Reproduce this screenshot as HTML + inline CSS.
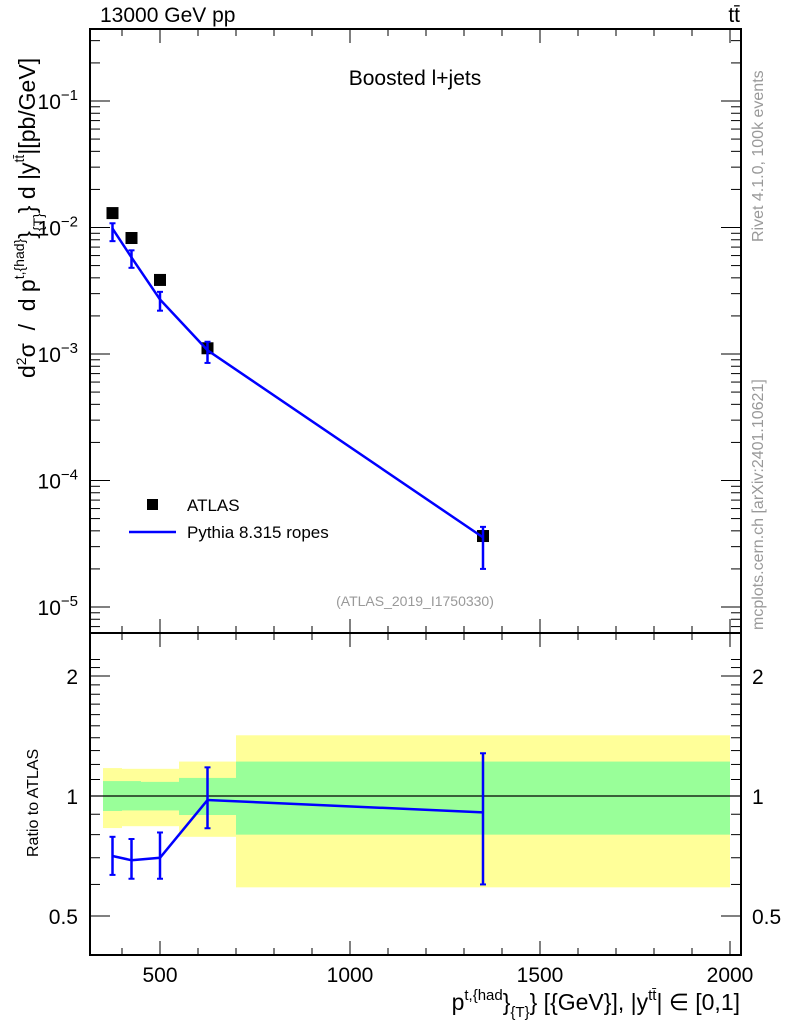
<!DOCTYPE html>
<html><head><meta charset="utf-8"><style>
body{margin:0;background:#fff;}
svg{font-family:"Liberation Sans",sans-serif;}
</style></head><body>
<svg id="c" width="786" height="1024" viewBox="0 0 786 1024"></svg>
<script>
const binEdges=[350,400,450,550,700,2000];
const xCenters=[375,425,500,625,1350];
const dataVals=[0.0130,0.00826,0.00385,0.00111,3.64e-5];
const mcVals=[0.0098,0.0058,0.0027,0.00107,3.55e-5];
const mcErrLo=[0.0078,0.0048,0.0022,0.00085,2.0e-5];
const mcErrHi=[0.0108,0.0066,0.0031,0.00125,4.3e-5];
const yellowHi=[1.175,1.17,1.17,1.22,1.42];
const yellowLo=[0.831,0.84,0.84,0.79,0.59];
const greenHi=[1.09,1.09,1.085,1.11,1.22];
const greenLo=[0.917,0.92,0.92,0.896,0.80];
const ratioVals=[0.707,0.69,0.70,0.977,0.91];
const ratioLo=[0.634,0.62,0.62,0.83,0.60];
const ratioHi=[0.79,0.78,0.81,1.18,1.28];
const xTicks=[500,1000,1500,2000];
const yTicksMain=[-5,-4,-3,-2,-1];
const yTicksRatio=[0.5,1,2];

const NS="http://www.w3.org/2000/svg";
const svg=document.getElementById('c');
const L=90,R=741,T=29,M=633,B=955;
const X=v=>-30+0.38*v;
const Y=v=>101-126.5*(Math.log10(v)+1);
const YR=v=>796-120*Math.log2(v);
function el(t,a,p){const e=document.createElementNS(NS,t);for(const k in a)e.setAttribute(k,a[k]);(p||svg).appendChild(e);return e;}
function txt(x,y,s,a,name){const e=el('text',Object.assign({x:x,y:y,'font-size':21},a||{}));e.innerHTML=s;return e;}

for(let i=0;i<5;i++){
  const x0=X(binEdges[i]),x1=X(binEdges[i+1]);
  const y1=el('rect',{x:x0,y:YR(yellowHi[i]),width:x1-x0,height:YR(yellowLo[i])-YR(yellowHi[i]),fill:'#ffff99'});
  
  
  const g1=el('rect',{x:x0,y:YR(greenHi[i]),width:x1-x0,height:YR(greenLo[i])-YR(greenHi[i]),fill:'#99ff99'});
  
  
}
el('line',{x1:L,x2:R,y1:YR(1),y2:YR(1),stroke:'#000','stroke-width':1.3});

const f1=el('rect',{x:L,y:T,width:R-L,height:M-T,fill:'none',stroke:'#000','stroke-width':2});


const f2=el('rect',{x:L,y:M,width:R-L,height:B-M,fill:'none',stroke:'#000','stroke-width':2});



for(let v=400;v<=2000;v+=100){
  const major=v%500===0,len=major?14:7,x=X(v);
  for(const [y0,d] of [[M,-1],[T,1],[B,-1],[M,1]]) el('line',{x1:x,x2:x,y1:y0,y2:y0+d*len,stroke:'#000','stroke-width':1});
}
xTicks.forEach(v=>txt(X(v),982,v,{'text-anchor':'middle'},'x-tick-label'));
for(let d=-6;d<=-1;d++){for(let m=1;m<10;m++){const v=m*Math.pow(10,d),y=Y(v);if(y<T||y>M)continue;const len=m===1?20:10;
  el('line',{x1:L,x2:L+len,y1:y,y2:y,stroke:'#000'});el('line',{x1:R,x2:R-len,y1:y,y2:y,stroke:'#000'});}}
yTicksMain.forEach(d=>txt(78,Y(Math.pow(10,d))+8,'10<tspan dy="-9" font-size="15">−'+(-d)+'</tspan>',{'text-anchor':'end'},'y-tick-label'));
for(let v=0.4;v<=2.3;v+=0.1){const y=YR(v);if(y<M||y>B)continue;const maj=Math.abs(v-0.5)<1e-6||Math.abs(v-1)<1e-6||Math.abs(v-2)<1e-6;const len=maj?20:10;
  el('line',{x1:L,x2:L+len,y1:y,y2:y,stroke:'#000'});el('line',{x1:R,x2:R-len,y1:y,y2:y,stroke:'#000'});}
yTicksRatio.forEach(v=>{txt(78,YR(v)+8,v,{'text-anchor':'end'},'ratio-tick-label');txt(752,YR(v)+8,v,{},'ratio-tick-label-right');});

dataVals.forEach((v,i)=>{const r=el('rect',{x:X(xCenters[i])-6,y:Y(v)-6,width:12,height:12,fill:'#000'});
  
  });
const p=el('polyline',{points:xCenters.map((x,i)=>X(x)+','+Y(mcVals[i])).join(' '),fill:'none',stroke:'#0000ff','stroke-width':2.5});


xCenters.forEach((x,i)=>{const xx=X(x);el('line',{x1:xx,x2:xx,y1:Y(mcErrLo[i]),y2:Y(mcErrHi[i]),stroke:'#0000ff','stroke-width':2.5});
  [mcErrLo[i],mcErrHi[i]].forEach(v=>el('line',{x1:xx-3,x2:xx+3,y1:Y(v),y2:Y(v),stroke:'#0000ff','stroke-width':2}));});
const rp=el('polyline',{points:xCenters.map((x,i)=>X(x)+','+YR(ratioVals[i])).join(' '),fill:'none',stroke:'#0000ff','stroke-width':2.5});


xCenters.forEach((x,i)=>{const xx=X(x);el('line',{x1:xx,x2:xx,y1:YR(ratioLo[i]),y2:YR(ratioHi[i]),stroke:'#0000ff','stroke-width':2.5});
  [ratioLo[i],ratioHi[i]].forEach(v=>el('line',{x1:xx-3,x2:xx+3,y1:YR(v),y2:YR(v),stroke:'#0000ff','stroke-width':2}));});

const lr=el('rect',{x:147,y:499,width:11,height:11,fill:'#000'});


txt(187,511,'ATLAS',{'font-size':17},'legend-atlas');
const ll=el('line',{x1:129,x2:176,y1:532,y2:532,stroke:'#0000ff','stroke-width':2.5});


txt(187,538,'Pythia 8.315 ropes',{'font-size':17},'legend-pythia');

txt(415,85,'Boosted l+jets',{'text-anchor':'middle'},'plot-title');
txt(415,606,'(ATLAS_2019_I1750330)',{'text-anchor':'middle','font-size':14,fill:'#999'},'analysis-id');
txt(100,22,'13000 GeV pp',{},'beam-label');
txt(740,22,'tt̄',{'text-anchor':'end'},'process-label');
txt(0,0,'Rivet 4.1.0,  100k events',{'font-size':16,fill:'#999',transform:'translate(763,242) rotate(-90)'},'rivet-label');
txt(0,0,'mcplots.cern.ch [arXiv:2401.10621]',{'font-size':16,fill:'#999',transform:'translate(763,630) rotate(-90)'},'mcplots-label');
txt(0,0,'d<tspan dy="-9" font-size="14">2</tspan><tspan dy="9">σ&#160; /&#160; d p</tspan><tspan dy="-11" font-size="14">t,{had}</tspan><tspan dy="11">}</tspan><tspan dy="8" font-size="14">{T}</tspan><tspan dy="-8">} d |y</tspan><tspan dy="-11" font-size="14">tt̄</tspan><tspan dy="11">|[pb/GeV]</tspan>',{'font-size':23,'text-anchor':'start',transform:'translate(35,378) rotate(-90)'},'y-axis-title');
txt(0,0,'Ratio to ATLAS',{'font-size':16,'text-anchor':'start',transform:'translate(38,857) rotate(-90)'},'ratio-axis-title');
txt(740,1010,'p<tspan dy="-10" font-size="15">t,{had</tspan><tspan dy="10">}</tspan><tspan dy="7" font-size="15">{T}</tspan><tspan dy="-7">} [{GeV}], |y</tspan><tspan dy="-10" font-size="15">tt̄</tspan><tspan dy="10">| ∈ [0,1]</tspan>',{'font-size':23,'text-anchor':'end'},'x-axis-title');
</script>
</body></html>
